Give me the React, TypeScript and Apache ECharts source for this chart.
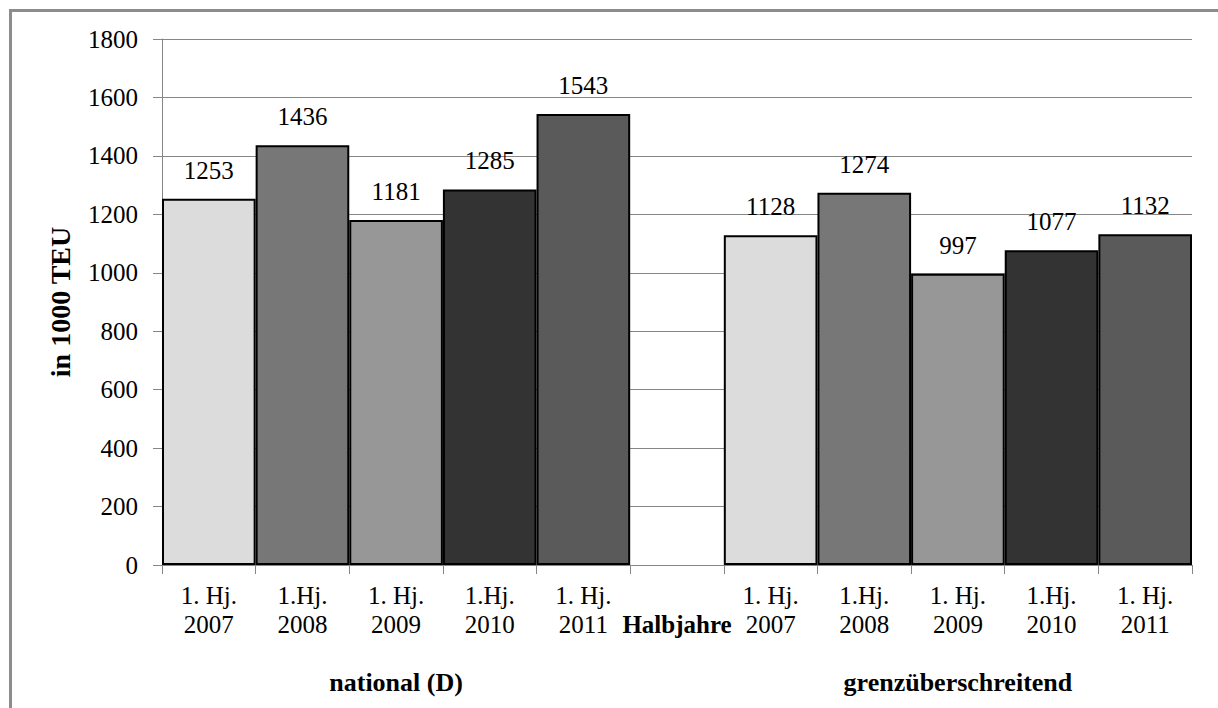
import React, { useEffect, useRef } from "react";
import * as echarts from "echarts";

const categories = [
  "1. Hj.\n2007",
  "1.Hj.\n2008",
  "1. Hj.\n2009",
  "1.Hj.\n2010",
  "1. Hj.\n2011",
  "Halbjahre",
  "1. Hj.\n2007",
  "1.Hj.\n2008",
  "1. Hj.\n2009",
  "1.Hj.\n2010",
  "1. Hj.\n2011",
];
const nationalValues = [1253, 1436, 1181, 1285, 1543];
const crossBorderValues = [1128, 1274, 997, 1077, 1132];
const yearColors = ["#dcdcdc", "#777777", "#979797", "#333333", "#5a5a5a"];
const groupNames = ["national (D)", "grenzüberschreitend"];
const groupLabelIndex = [2, 8];
const yTicks = { min: 0, max: 1800, interval: 200 };

const FONT = "Liberation Serif";
const FS = 25;

export default function App() {
  const ref = useRef<HTMLDivElement>(null);
  useEffect(() => {
    if (!ref.current) return;
    const chart = echarts.init(ref.current, null, { renderer: "svg" });
    const values: any[] = [...nationalValues, "-", ...crossBorderValues];
    const data = values.map((v, i) => {
      if (v === "-") return "-";
      const colorIdx = i < 5 ? i : i - 6;
      return { value: v, itemStyle: { color: yearColors[colorIdx] } };
    });
    const groupCats = categories.map((_, i) => {
      const k = groupLabelIndex.indexOf(i);
      return k >= 0 ? groupNames[k] : "";
    });
    chart.setOption({
      animation: false,
      textStyle: { fontFamily: FONT },
      graphic: [
        {
          type: "rect",
          shape: { x: 10.5, y: 10.5, width: 1400, height: 900 },
          style: { fill: "none", stroke: "#8c8c8c", lineWidth: 3 },
          silent: true,
        },
      ],
      grid: { left: 162, right: 26, top: 39, bottom: 143 },
      xAxis: [
        {
          type: "category",
          data: categories,
          boundaryGap: true,
          axisLine: { show: true, lineStyle: { color: "#868686", width: 1 } },
          axisTick: { show: true, length: 9, lineStyle: { color: "#868686" } },
          axisLabel: {
            interval: 0,
            margin: 16,
            fontFamily: FONT,
            fontSize: FS,
            lineHeight: 29,
            color: "#000",
            formatter: (val: string) =>
              val === "Halbjahre" ? "\n{b|Halbjahre}" : val,
            rich: {
              b: { fontFamily: FONT, fontSize: FS, fontWeight: "bold", color: "#000", lineHeight: 29 },
            },
          },
          splitLine: { show: false },
        },
        {
          type: "category",
          data: groupCats,
          position: "bottom",
          offset: 95,
          axisLine: { show: false },
          axisTick: { show: false },
          axisLabel: {
            interval: 0,
            margin: 8,
            fontFamily: FONT,
            fontSize: 26,
            fontWeight: "bold",
            lineHeight: 29,
            color: "#000",
          },
        },
      ],
      yAxis: {
        type: "value",
        min: yTicks.min,
        max: yTicks.max,
        interval: yTicks.interval,
        name: "in 1000 TEU",
        nameLocation: "middle",
        nameGap: 88,
        nameTextStyle: { fontFamily: FONT, fontSize: 28, fontWeight: "bold", color: "#000" },
        axisLine: { show: true, lineStyle: { color: "#868686", width: 1 } },
        axisTick: { show: true, length: 9, lineStyle: { color: "#868686" } },
        axisLabel: {
          margin: 24,
          fontFamily: FONT,
          fontSize: FS,
          color: "#000",
          formatter: (v: number) => String(v),
        },
        splitLine: { show: true, lineStyle: { color: "#868686", width: 1 } },
      },
      series: [
        {
          type: "bar",
          xAxisIndex: 0,
          data,
          barCategoryGap: "0%",
          itemStyle: { borderColor: "#000", borderWidth: 2 },
          label: {
            show: true,
            position: "top",
            distance: 16,
            fontFamily: FONT,
            fontSize: FS,
            color: "#000",
          },
        },
      ],
    });
    return () => chart.dispose();
  }, []);
  return (
    <div
      ref={ref}
      style={{ position: "fixed", left: 0, top: 0, width: 1218, height: 708, background: "#fff" }}
    />
  );
}
